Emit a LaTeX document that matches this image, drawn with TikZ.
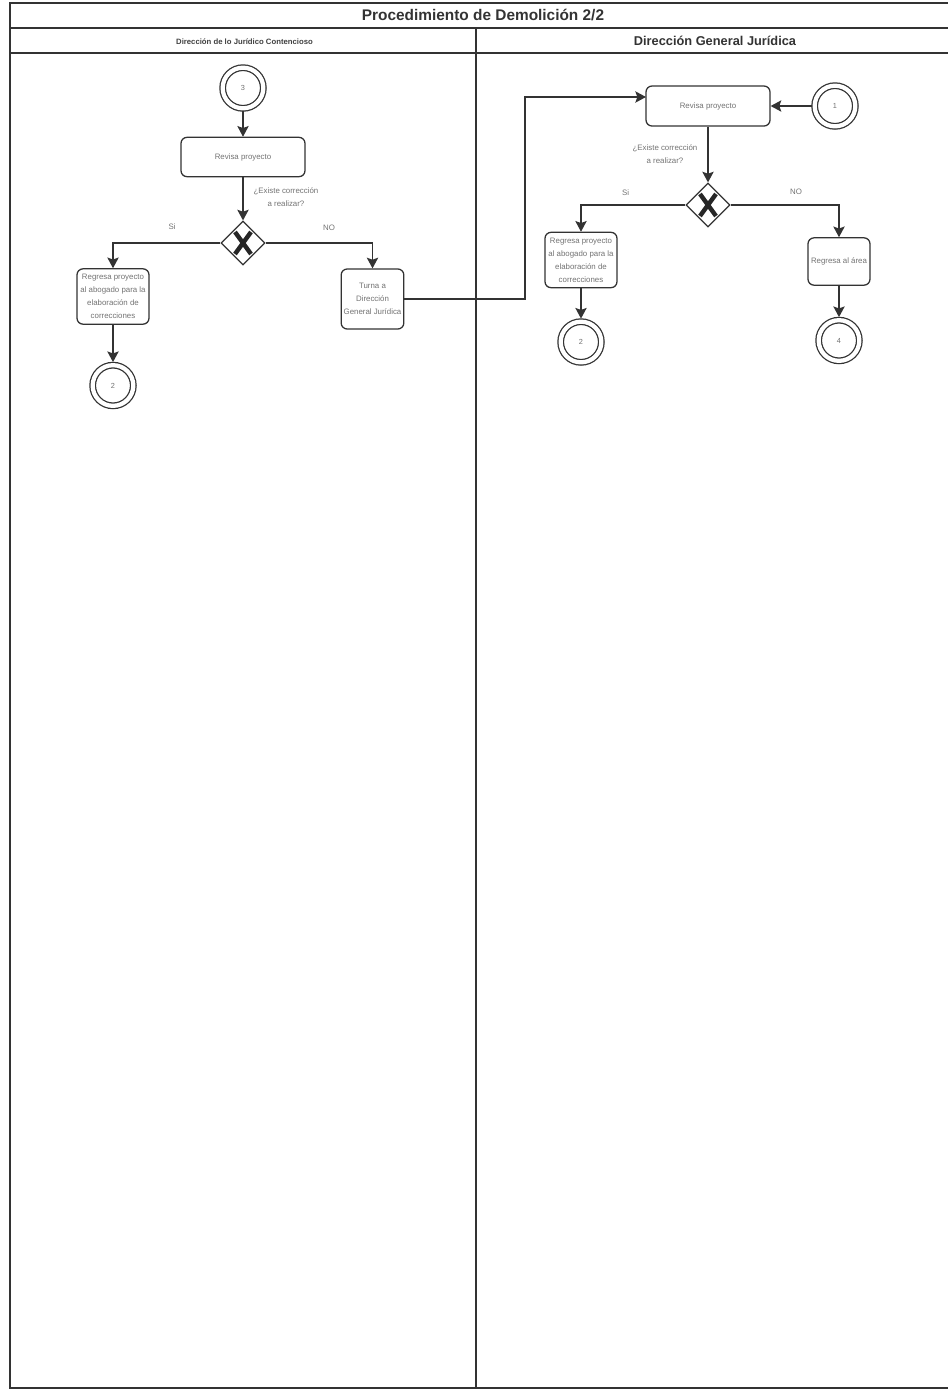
\documentclass[tikz,border=0pt]{standalone}
\usepackage{fontspec}
\setmainfont{Liberation Sans}
\usetikzlibrary{shapes.geometric,arrows.meta}
\definecolor{ink}{gray}{0.2}
\definecolor{soft}{gray}{0.45}
\tikzset{
  x=0.75pt,y=-0.75pt,
  frameline/.style={draw=ink,line width=1.1pt},
  taskbox/.style={draw=ink,line width=0.95pt,rounded corners=4.5pt,fill=white,inner sep=0pt,align=center,text=soft,font=\fontsize{5.9}{9.7}\selectfont},
  ring/.style={circle,draw=ink,line width=0.95pt,fill=white,minimum size=30.5pt,inner sep=0pt,outer sep=2.3pt,double=white,double distance=3.2pt,text=soft,font=\fontsize{5.5}{7}\selectfont},
  gate/.style={diamond,draw=ink,line width=0.9pt,fill=white,minimum width=33pt,minimum height=33pt,inner sep=0pt},
  flow/.style={draw=ink,line width=0.95pt,-{Stealth[length=8pt,width=8.5pt,inset=1.5pt]}},
  cross/.style={draw=black!85,line width=3.3pt},
  lbl/.style={text=soft,align=center,inner sep=0pt,font=\fontsize{5.9}{9.7}\selectfont},
}
\begin{document}
\begin{tikzpicture}
\useasboundingbox (0,0) rectangle (948,1390);
% frame
\coordinate (tl) at (10,3); \coordinate (tr) at (948,3);
\coordinate (bl) at (10,1388); \coordinate (br) at (948,1388);
\coordinate (t1l) at (10,28); \coordinate (t1r) at (948,28);
\coordinate (t2l) at (10,53); \coordinate (t2r) at (948,53);
\coordinate (dt) at (476,28); \coordinate (db) at (476,1388);
\draw[frameline] (tr) -- (tl) -- (bl) -- (br);
\draw[frameline] (t1l) -- (t1r);
\draw[frameline] (t2l) -- (t2r);
\draw[frameline] (dt) -- (db);
% headers
\node[inner sep=0pt,text=black!80,font=\bfseries\fontsize{11.55}{13}\selectfont] (title) at (483,15) {Procedimiento de Demolición 2/2};
\node[inner sep=0pt,text=black!75,font=\bfseries\fontsize{5.8}{7}\selectfont] (hl) at (244.5,41.5) {Dirección de lo Jurídico Contencioso};
\node[inner sep=0pt,text=black!80,font=\bfseries\fontsize{9.6}{11}\selectfont] (hr) at (715,40.5) {Dirección General Jurídica};
% left lane
\node[ring] (c3) at (243,88) {3};
\node[taskbox,minimum width=93pt,minimum height=29.5pt] (rev1) at (243,157) {Revisa proyecto};
\node[gate] (g1) at (243,243) {};
\node[taskbox,minimum width=54pt,minimum height=41.5pt] (reg1) at (113,296.5) {Regresa proyecto\\al abogado para la\\elaboración de\\correcciones};
\node[taskbox,minimum width=47pt,minimum height=45pt] (tur) at (372.5,299) {Turna a\\Dirección\\General Jurídica};
\node[ring] (c2a) at (113,385.5) {2};
\node[lbl] (q1) at (286,197) {¿Existe corrección\\a realizar?};
\node[lbl] (si1) at (172,227) {Si};
\node[lbl] (no1) at (329,228) {NO};
% right lane
\node[taskbox,minimum width=93pt,minimum height=30pt] (rev2) at (708,106) {Revisa proyecto};
\node[ring] (c1) at (835,106) {1};
\node[gate] (g2) at (708,205) {};
\node[taskbox,minimum width=54pt,minimum height=41.5pt] (reg2) at (581,260) {Regresa proyecto\\al abogado para la\\elaboración de\\correcciones};
\node[taskbox,minimum width=46.5pt,minimum height=35.5pt] (area) at (839,261.5) {Regresa al área};
\node[ring] (c2b) at (581,342) {2};
\node[ring] (c4) at (839,340.5) {4};
\node[lbl] (q2) at (665,154) {¿Existe corrección\\a realizar?};
\node[lbl] (si2) at (625.5,193) {Si};
\node[lbl] (no2) at (796,192) {NO};
% crosses
\draw[cross] (g1.center) ++(-8,-11) -- ++(16,22);
\draw[cross] (g1.center) ++(8,-11) -- ++(-16,22);
\draw[cross] (g2.center) ++(-8,-11) -- ++(16,22);
\draw[cross] (g2.center) ++(8,-11) -- ++(-16,22);
% connectors
\draw[flow] (c3) -- (rev1);
\draw[flow] (rev1) -- (g1);
\draw[flow] (g1) -| (reg1);
\draw[flow] (g1) -| (tur);
\draw[flow] (reg1) -- (c2a);
\coordinate (bend) at (525,299);
\coordinate (entry) at (646,97);
\draw[flow] (tur) -- (bend) |- (entry);
\draw[flow] (c1) -- (rev2);
\draw[flow] (rev2) -- (g2);
\draw[flow] (g2) -| (reg2);
\draw[flow] (g2) -| (area);
\draw[flow] (reg2) -- (c2b);
\draw[flow] (area) -- (c4);
\end{tikzpicture}
\end{document}
